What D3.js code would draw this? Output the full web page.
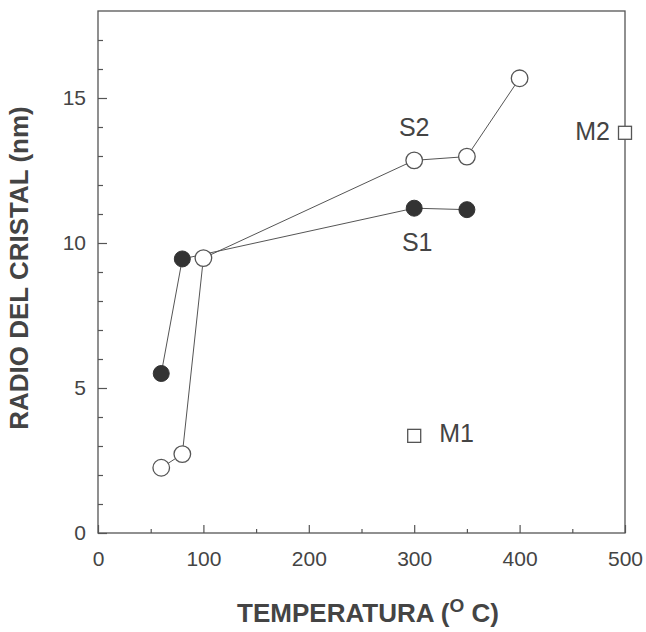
<!DOCTYPE html>
<html>
<head>
<meta charset="utf-8">
<script src="https://cdn.jsdelivr.net/npm/d3@7/dist/d3.min.js"></script>
<style>
  html, body { margin: 0; padding: 0; background: #fff; }
  svg { display: block; font-family: "Liberation Sans", Arial, sans-serif; }
</style>
</head>
<body>
<svg id="chart" width="646" height="632"></svg>
<script>
// Crystal radius (nm) vs. temperature (°C)
const s1Temp = [60, 80, 300, 350];
const s1Radius = [5.5, 9.45, 11.2, 11.15];
const s2Temp = [60, 80, 100, 300, 350, 400];
const s2Radius = [2.25, 2.72, 9.48, 12.85, 12.98, 15.68];
const mTemp = [300, 500];
const mRadius = [3.35, 13.8];
const mNames = ["M1", "M2"];
const xTicks = [0, 100, 200, 300, 400, 500];
const yTicks = [0, 5, 10, 15];

const svg = d3.select("#chart");
const plotLeft = 98, plotRight = 625, plotTop = 11, plotBottom = 533;
const x = d3.scaleLinear().domain([0, 500]).range([plotLeft, plotRight]);
const y = d3.scaleLinear().domain([0, 18]).range([plotBottom, plotTop]);

const ink = "#444";
const lineCol = "#555";

// frame
svg.append("rect")
  .attr("x", plotLeft).attr("y", plotTop)
  .attr("width", plotRight - plotLeft).attr("height", plotBottom - plotTop)
  .attr("fill", "none").attr("stroke", lineCol).attr("stroke-width", 1.3);

// bottom axis: minor ticks every 50, major every 100 with labels
const xMinor = svg.append("g").attr("transform", `translate(0,${plotBottom})`)
  .call(d3.axisBottom(x).tickValues(d3.range(50, 500, 100)).tickSize(-4).tickFormat(""));
const xMajor = svg.append("g").attr("transform", `translate(0,${plotBottom})`)
  .call(d3.axisBottom(x).tickValues(xTicks).tickSize(-8).tickPadding(18).tickFormat(d3.format("d")));

// left axis: minor ticks every 1, major every 5 with labels
const yMinor = svg.append("g").attr("transform", `translate(${plotLeft},0)`)
  .call(d3.axisLeft(y).tickValues(d3.range(0, 18, 1).filter(v => v % 5 !== 0)).tickSize(-5).tickFormat(""));
const yMajor = svg.append("g").attr("transform", `translate(${plotLeft},0)`)
  .call(d3.axisLeft(y).tickValues(yTicks).tickSize(-9).tickPadding(12).tickFormat(d3.format("d")));

[xMinor, xMajor, yMinor, yMajor].forEach(g => {
  g.select(".domain").remove();
  g.selectAll(".tick line").attr("stroke", lineCol).attr("stroke-width", 1.2);
  g.selectAll(".tick text").attr("fill", ink).attr("font-size", 21)
    .attr("font-family", "Liberation Sans, Arial, sans-serif");
});

// series lines
const line = d3.line().x(d => x(d[0])).y(d => y(d[1]));
const s1 = s1Temp.map((t, i) => [t, s1Radius[i]]);
const s2 = s2Temp.map((t, i) => [t, s2Radius[i]]);

svg.append("path").datum(s1).attr("d", line)
  .attr("fill", "none").attr("stroke", lineCol).attr("stroke-width", 1);
svg.append("path").datum(s2).attr("d", line)
  .attr("fill", "none").attr("stroke", lineCol).attr("stroke-width", 1);

// S2 open circles
svg.append("g").selectAll("circle").data(s2).join("circle")
  .attr("cx", d => x(d[0])).attr("cy", d => y(d[1])).attr("r", 8.3)
  .attr("fill", "#fff").attr("stroke", "#555").attr("stroke-width", 1.3);

// S1 filled circles
svg.append("g").selectAll("circle").data(s1).join("circle")
  .attr("cx", d => x(d[0])).attr("cy", d => y(d[1])).attr("r", 8)
  .attr("fill", "#333").attr("stroke", "#333").attr("stroke-width", 1);

// M open squares
const m = mTemp.map((t, i) => [t, mRadius[i], mNames[i]]);
const sq = 13;
svg.append("g").selectAll("rect").data(m).join("rect")
  .attr("x", d => x(d[0]) - sq / 2).attr("y", d => y(d[1]) - sq / 2)
  .attr("width", sq).attr("height", sq)
  .attr("fill", "#fff").attr("stroke", "#555").attr("stroke-width", 1.3);

// series labels
const lab = (tx, ty, s, anchor) => svg.append("text")
  .attr("x", tx).attr("y", ty).attr("text-anchor", anchor)
  .attr("dominant-baseline", "central")
  .attr("font-size", 25).attr("fill", ink).text(s);
lab(x(300), y(14.0), "S2", "middle");
lab(x(300) + 3, y(10.05), "S1", "middle");
lab(x(500) - 15, y(mRadius[1]) - 2, mNames[1], "end");
lab(x(300) + 25, y(mRadius[0]) - 3, mNames[0], "start");

// axis titles
const xt = svg.append("text")
  .attr("x", 368).attr("y", 622).attr("text-anchor", "middle")
  .attr("font-size", 26).attr("font-weight", "bold").attr("fill", ink);
xt.append("tspan").text("TEMPERATURA (");
xt.append("tspan").attr("dy", -10).attr("font-size", 19).text("O");
xt.append("tspan").attr("dy", 10).text(" C)");

svg.append("text")
  .attr("transform", `translate(28,268) rotate(-90)`)
  .attr("text-anchor", "middle")
  .attr("font-size", 26).attr("font-weight", "bold").attr("fill", ink)
  .text("RADIO DEL CRISTAL (nm)");
</script>
</body>
</html>
